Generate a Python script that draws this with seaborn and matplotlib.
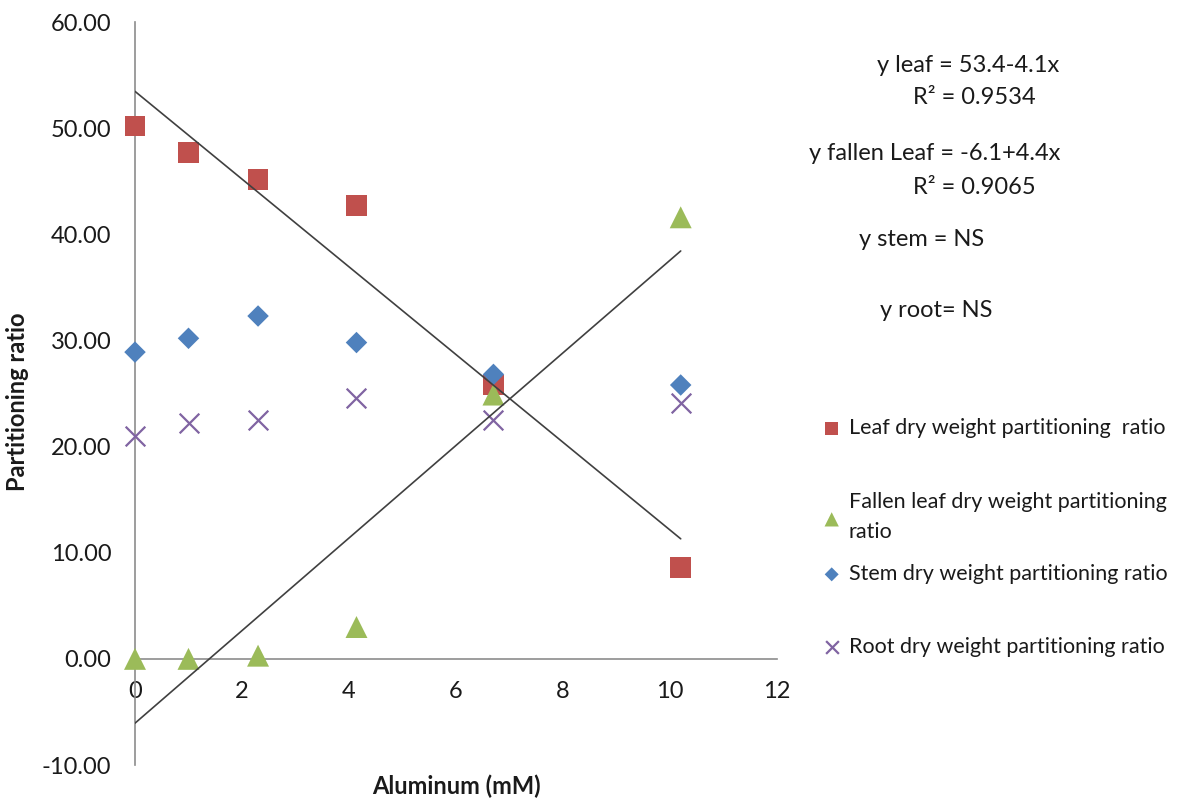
import matplotlib
matplotlib.use("Agg")
import matplotlib.pyplot as plt
import matplotlib.ticker as mticker
import numpy as np
import pandas as pd
import seaborn as sns

# Aluminum concentration (mM)
aluminum = [0, 1, 2.3, 4.14, 6.7, 10.2]

# Dry weight partitioning ratios
leaf = [50.2, 47.7, 45.2, 42.7, 25.8, 8.6]
fallen_leaf = [0.0, 0.0, 0.3, 3.0, 24.9, 41.6]
stem = [28.9, 30.2, 32.3, 29.8, 26.8, 25.8]
root = [21.0, 22.2, 22.5, 24.6, 22.5, 24.1]

series_labels = [
    "Leaf dry weight partitioning  ratio",
    "Fallen leaf dry weight partitioning\nratio",
    "Stem dry weight partitioning ratio",
    "Root dry weight partitioning ratio",
]

equations = [
    "y leaf = 53.4-4.1x",
    "R\u00b2 = 0.9534",
    "y fallen Leaf = -6.1+4.4x",
    "R\u00b2 = 0.9065",
    "y stem = NS",
    "y root= NS",
]

y_ticks = [-10, 0, 10, 20, 30, 40, 50, 60]
x_ticks = [0, 2, 4, 6, 8, 10, 12]

sns.set_style("white")
plt.rcParams["font.family"] = ["Lato", "DejaVu Sans"]

W, H = 1189, 805
fig = plt.figure(figsize=(W / 100, H / 100), dpi=100)
ax = fig.add_axes([135 / W, 1 - 765 / H, (777 - 135) / W, (765 - 22) / H])

df = pd.DataFrame({"Al": aluminum, "leaf": leaf, "fallen": fallen_leaf,
                   "stem": stem, "root": root})

red, green, blue, purple = "#C0504D", "#9BBB59", "#4F81BD", "#8064A2"

sns.scatterplot(data=df, x="Al", y="leaf", marker="s", s=225, color=red,
                edgecolor="none", ax=ax, label=series_labels[0], zorder=3,
                clip_on=False)
sns.scatterplot(data=df, x="Al", y="fallen", marker="^", s=250, color=green,
                edgecolor="none", ax=ax, label=series_labels[1], zorder=3,
                clip_on=False)
sns.scatterplot(data=df, x="Al", y="stem", marker="D", s=120, color=blue,
                edgecolor="none", ax=ax, label=series_labels[2], zorder=3,
                clip_on=False)
sns.scatterplot(data=df, x="Al", y="root", marker="x", s=200, color=purple,
                linewidth=1.6, ax=ax, label=series_labels[3], zorder=3,
                clip_on=False)

# Linear trend lines for leaf and fallen leaf
for col in ["leaf", "fallen"]:
    sns.regplot(data=df, x="Al", y=col, scatter=False, ci=None, truncate=True,
                ax=ax, line_kws=dict(color="#404040", lw=1.2, zorder=4))

ax.set_xlim(0, 12)
ax.set_ylim(-10, 60)
ax.set_xticks(x_ticks)
ax.set_yticks(y_ticks)
ax.yaxis.set_major_formatter(mticker.FormatStrFormatter("%.2f"))

for s in ["top", "right"]:
    ax.spines[s].set_visible(False)
for s in ["left", "bottom"]:
    ax.spines[s].set_color("#8c8c8c")
    ax.spines[s].set_linewidth(1.2)
ax.spines["bottom"].set_position(("data", 0))

ax.tick_params(axis="both", which="major", direction="out", length=6,
               width=1.2, color="#8c8c8c", labelsize=17, labelcolor="#1a1a1a")
ax.tick_params(axis="y", pad=11)
ax.tick_params(axis="x", pad=10)
ax.set_xlabel("")
ax.set_ylabel("")

fig.text(18 / W, 1 - 402 / H, "Partitioning ratio", rotation=90, ha="center",
         va="center", fontsize=17, fontweight="bold", color="#1a1a1a")
fig.text(456 / W, 1 - 786 / H, "Aluminum (mM)", ha="center", va="center",
         fontsize=17, fontweight="bold", color="#1a1a1a")

# Regression equations
eq_pos = [(877, 65), (913, 98), (809, 153), (913, 187), (859, 240), (880, 310)]
for text, (px, py) in zip(equations, eq_pos):
    fig.text(px / W, 1 - py / H, text, ha="left", va="center", fontsize=17,
             color="#1a1a1a")

# Legend entries, each placed separately
handles, labels = ax.get_legend_handles_labels()
if ax.legend_:
    ax.legend_.remove()
legend_y = [428, 517, 574, 647]
for h, lab, ly in zip(handles, labels, legend_y):
    leg = fig.legend([h], [lab], loc="center left",
                     bbox_to_anchor=(822 / W, 1 - ly / H),
                     bbox_transform=fig.transFigure, frameon=False,
                     fontsize=15.5, markerscale=0.65, handlelength=0.9,
                     handletextpad=0.35, borderpad=0, borderaxespad=0)
    for t in leg.get_texts():
        t.set_color("#1a1a1a")
        t.set_linespacing(1.6)

fig.savefig("out.png", dpi=100)
